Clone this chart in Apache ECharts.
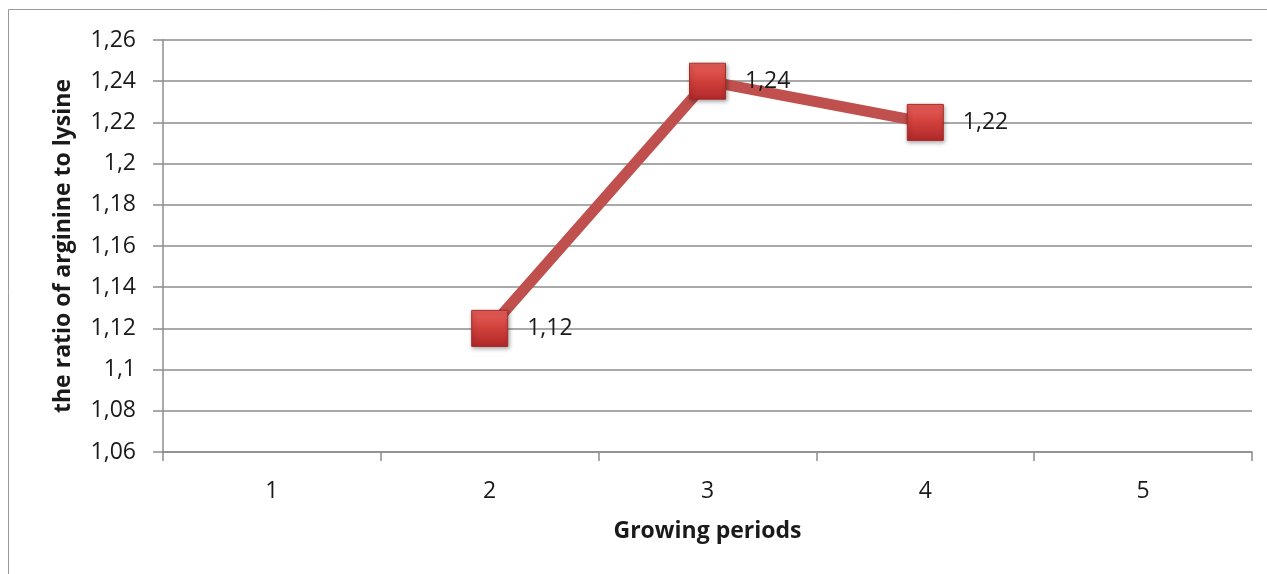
<!DOCTYPE html>
<html>
<head>
<meta charset="utf-8">
<style>
  html, body { margin: 0; padding: 0; background: #fff; }
  #chart { width: 1267px; height: 574px; }
</style>
<script src="https://cdn.jsdelivr.net/npm/echarts@6/dist/echarts.min.js"></script>
</head>
<body>
<div id="chart"></div>
<script>
const categories = ['1', '2', '3', '4', '5'];
const seriesValues = [null, 1.12, 1.24, 1.22, null];
const yTickLabels = ['1,06', '1,08', '1,1', '1,12', '1,14', '1,16', '1,18', '1,2', '1,22', '1,24', '1,26'];
const yTickValues = [1.06, 1.08, 1.10, 1.12, 1.14, 1.16, 1.18, 1.20, 1.22, 1.24, 1.26];
const xAxisTitle = 'Growing periods';
const yAxisTitle = 'the ratio of arginine to lysine';

const fmt = v => {
  let best = 0, bd = Infinity;
  yTickValues.forEach((t, i) => { const d = Math.abs(t - v); if (d < bd) { bd = d; best = i; } });
  return yTickLabels[best];
};

const chart = echarts.init(document.getElementById('chart'), null, { renderer: 'canvas' });
const font = '"Open Sans", "Noto Sans", sans-serif';
chart.setOption({
  animation: false,
  backgroundColor: '#ffffff',
  graphic: [{
    type: 'rect',
    shape: { x: 8.5, y: 9.5, width: 1300, height: 600 },
    style: { fill: 'none', stroke: '#9a9a9a', lineWidth: 1 },
    silent: true, z: -10
  }],
  grid: { left: 163, right: 15, top: 40, bottom: 122, containLabel: false },
  xAxis: {
    type: 'category',
    data: categories,
    boundaryGap: true,
    name: xAxisTitle,
    nameLocation: 'middle',
    nameGap: 68,
    nameTextStyle: { fontFamily: font, fontSize: 23, fontWeight: 'bold', color: '#1a1a1a' },
    axisLine: { lineStyle: { color: '#8c8c8c', width: 1.5 } },
    axisTick: { show: true, length: 9, alignWithLabel: false, lineStyle: { color: '#8c8c8c', width: 1.5 } },
    axisLabel: { fontFamily: font, fontSize: 23, color: '#1a1a1a', margin: 28 }
  },
  yAxis: {
    type: 'value',
    min: 1.06, max: 1.26, interval: 0.02,
    name: yAxisTitle,
    nameLocation: 'middle',
    nameGap: 88,
    nameRotate: 90,
    nameTextStyle: { fontFamily: font, fontSize: 23, fontWeight: 'bold', color: '#1a1a1a' },
    axisLine: { show: true, lineStyle: { color: '#8c8c8c', width: 1.5 } },
    axisTick: { show: true, length: 10, lineStyle: { color: '#8c8c8c', width: 1.5 } },
    axisLabel: { fontFamily: font, fontSize: 23, color: '#1a1a1a', margin: 27, formatter: fmt },
    splitLine: { show: true, lineStyle: { color: '#8c8c8c', width: 1.5 } }
  },
  series: [{
    type: 'line',
    data: seriesValues,
    connectNulls: false,
    lineStyle: { color: '#c0504d', width: 11 },
    symbol: 'rect',
    symbolSize: 36,
    itemStyle: {
      color: new echarts.graphic.LinearGradient(0, 0, 0, 1, [
        { offset: 0, color: '#e8605b' },
        { offset: 0.5, color: '#d0403b' },
        { offset: 1, color: '#b0282a' }
      ]),
      borderColor: '#a82a28',
      borderWidth: 1,
      shadowColor: 'rgba(0,0,0,0.35)',
      shadowBlur: 4,
      shadowOffsetX: 1,
      shadowOffsetY: 2
    },
    label: {
      show: true,
      position: 'right',
      distance: 19,
      fontFamily: font,
      fontSize: 23,
      color: '#1a1a1a',
      formatter: p => fmt(p.value)
    },
    z: 5
  }]
});
</script>
</body>
</html>
